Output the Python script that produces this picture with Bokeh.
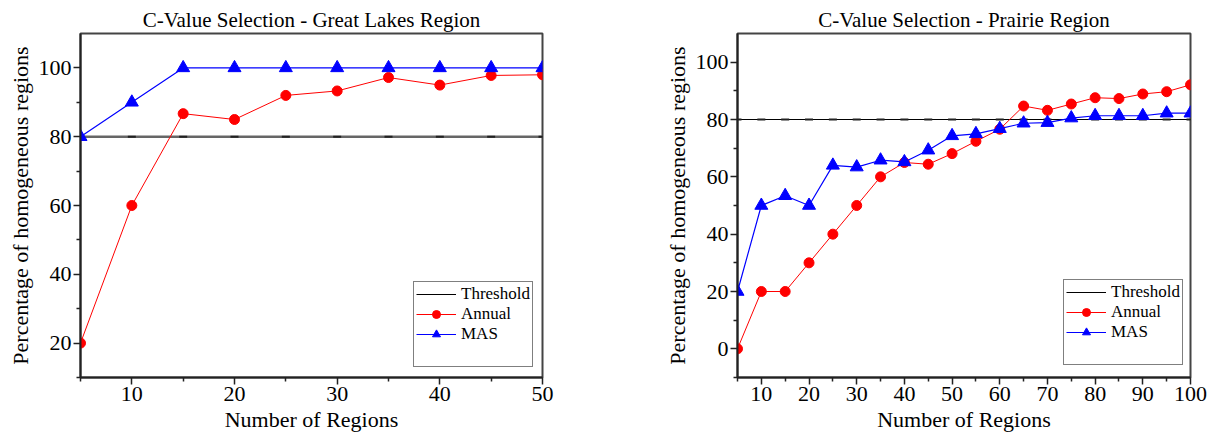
from bokeh.plotting import figure
from bokeh.models import Range1d, FixedTicker, Legend, LegendItem
from bokeh.layouts import row
from bokeh.embed import file_html
from bokeh.resources import INLINE

FONT = "Liberation Serif"

# ---- data ----
gl_x = [5, 10, 15, 20, 25, 30, 35, 40, 45, 50]
gl_annual = [20, 60, 86.7, 85, 92, 93.3, 97.2, 95, 97.8, 98]
gl_mas = [80, 90, 100, 100, 100, 100, 100, 100, 100, 100]

pr_x = [5, 10, 15, 20, 25, 30, 35, 40, 45, 50, 55, 60, 65, 70, 75, 80, 85, 90, 95, 100]
pr_annual = [0, 20, 20, 30, 40, 50, 60, 65, 64.4, 68.1, 72.4, 76.6, 84.7, 83.2, 85.4,
             87.6, 87.3, 88.9, 89.7, 92.1]
pr_mas = [20, 50, 53.4, 50, 64.0, 63.4, 65.8, 65.2, 69.3, 74.3, 75.0, 76.8, 78.7, 78.9,
          80.5, 81.3, 81.3, 81.3, 82.2, 82.2]

threshold = 80

gl_xticks = [10, 20, 30, 40, 50]
gl_xminor = [5, 15, 25, 35, 45]
gl_yticks = [20, 40, 60, 80, 100]
gl_yminor = [10, 30, 50, 70, 90]

pr_xticks = [10, 20, 30, 40, 50, 60, 70, 80, 90, 100]
pr_xminor = [5, 15, 25, 35, 45, 55, 65, 75, 85, 95]
pr_yticks = [0, 20, 40, 60, 80, 100]
pr_yminor = [-10, 10, 30, 50, 70, 90]


def make(title, x, ann, mas, xr, yr, xt, xm, yt, ym, w, h, bl, br, bt, bb,
         thr_color, thr_width, leg_loc):
    p = figure(width=w, height=h, output_backend="svg", toolbar_location=None,
               x_range=Range1d(*xr), y_range=Range1d(*yr),
               min_border_left=bl, min_border_right=br,
               min_border_top=bt, min_border_bottom=bb)
    p.title.text = title
    p.title.text_font = FONT
    p.title.text_font_size = "21px"
    p.title.text_font_style = "normal"
    p.title.text_color = "black"
    p.title.align = "center"
    p.title.standoff = 3
    p.grid.visible = False
    p.outline_line_color = "#444444"
    p.outline_line_width = 2

    for ax in (p.xaxis[0], p.yaxis[0]):
        ax.axis_line_color = "#222222"
        ax.axis_line_width = 2
        ax.major_tick_line_color = "#222222"
        ax.minor_tick_line_color = "#222222"
        ax.major_tick_line_width = 1.5
        ax.minor_tick_line_width = 1.5
        ax.major_tick_in = 0
        ax.minor_tick_in = 0
        ax.major_tick_out = 7
        ax.minor_tick_out = 4
        ax.major_label_text_font = FONT
        ax.major_label_text_font_size = "22px"
        ax.major_label_text_color = "black"
        ax.axis_label_text_font = FONT
        ax.axis_label_text_font_size = "22px"
        ax.axis_label_text_font_style = "normal"
        ax.axis_label_text_color = "black"
        ax.major_label_standoff = 2
        ax.axis_label_standoff = 3
    p.xaxis.ticker = FixedTicker(ticks=xt, minor_ticks=xm)
    p.yaxis.ticker = FixedTicker(ticks=yt, minor_ticks=ym)
    p.xaxis.axis_label = "Number of Regions"
    p.yaxis.axis_label = "Percentage of homogeneous regions"

    thr = [threshold] * len(x)
    # thin black threshold line (used as legend glyph), covered by styled line
    r_tl_leg = p.line(x, thr, line_color="black", line_width=1)
    p.line(x, thr, line_color=thr_color, line_width=thr_width)
    p.scatter(x, thr, marker="dash", size=8, line_color="#222222", line_width=2)
    r_al = p.line(x, ann, line_color="red", line_width=1)
    r_am = p.scatter(x, ann, marker="circle", size=10, fill_color="red", line_color="red")
    r_ml = p.line(x, mas, line_color="blue", line_width=1.2)
    r_mm = p.scatter(x, mas, marker="triangle", size=13, fill_color="blue", line_color="blue")
    r_empty = p.line([], [], line_alpha=0)

    legend = Legend(items=[
        LegendItem(label="Threshold", renderers=[r_tl_leg]),
        LegendItem(label="Annual", renderers=[r_al, r_am]),
        LegendItem(label="MAS", renderers=[r_ml, r_mm]),
        LegendItem(label=" ", renderers=[r_empty]),
    ], location=leg_loc)
    legend.label_text_font = FONT
    legend.label_text_font_size = "17px"
    legend.label_text_color = "black"
    legend.glyph_width = 40
    legend.glyph_height = 20
    legend.label_height = 20
    legend.spacing = 0
    legend.padding = 2
    legend.margin = 0
    legend.label_standoff = 5
    legend.border_line_color = "black"
    legend.border_line_width = 1.2
    legend.background_fill_color = "white"
    legend.background_fill_alpha = 1
    p.add_layout(legend)
    return p


p1 = make("C-Value Selection - Great Lakes Region", gl_x, gl_annual, gl_mas,
          (5, 50), (10, 110), gl_xticks, gl_xminor, gl_yticks, gl_yminor,
          628, 440, 80, 86, 33, 63, "#666666", 2.5, (333, 10))
p2 = make("C-Value Selection - Prairie Region", pr_x, pr_annual, pr_mas,
          (5, 100), (-10, 110), pr_xticks, pr_xminor, pr_yticks, pr_yminor,
          582, 440, 109, 20, 33, 61, "black", 1.2, (326, 12))

layout = row(p1, p2)
open("out.html", "w").write(file_html(layout, INLINE))
